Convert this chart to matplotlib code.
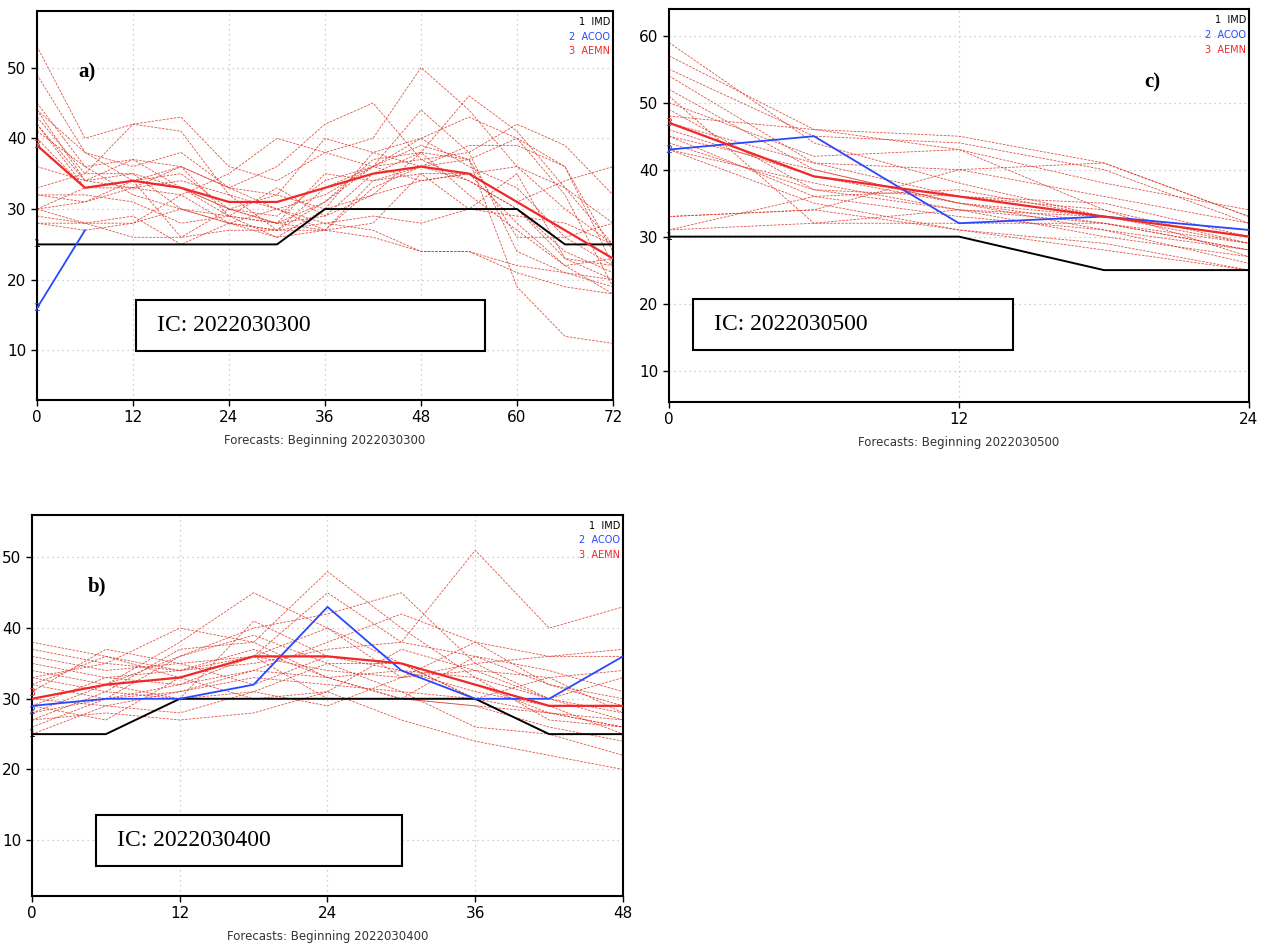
import matplotlib.pyplot as plt
import numpy as np

# panel a: IC 2022030300, lead hours 0..72
hours_a = np.arange(0, 73, 6)
imd_a = [25, 25, 25, 25, 25, 25, 30, 30, 30, 30, 30, 25, 25]
acoo_a = [16, 27]
aemn_a = [39, 33, 34, 33, 31, 31, 33, 35, 36, 35, 31, 27, 23]
members_a = [
    [53, 40, 42, 43, 36, 34, 38, 40, 50, 44, 36, 30, 25],
    [49, 38, 36, 38, 33, 30, 32, 36, 44, 38, 42, 39, 32],
    [45, 36, 37, 33, 30, 28, 29, 35, 38, 46, 41, 33, 28],
    [44, 34, 33, 32, 35, 40, 38, 36, 40, 43, 40, 36, 24],
    [43, 35, 42, 41, 32, 27, 27, 33, 36, 37, 40, 32, 19],
    [42, 33, 34, 36, 33, 36, 42, 45, 37, 34, 30, 24, 21],
    [41, 36, 32, 30, 29, 26, 30, 38, 40, 36, 33, 26, 22],
    [36, 34, 37, 36, 29, 28, 35, 34, 35, 35, 31, 34, 36],
    [33, 35, 35, 33, 30, 29, 34, 36, 39, 37, 19, 12, 11],
    [32, 32, 31, 28, 29, 33, 29, 32, 34, 35, 28, 22, 18],
    [32, 31, 33, 34, 32, 30, 28, 27, 24, 24, 21, 19, 18],
    [30, 28, 26, 26, 30, 32, 40, 38, 36, 34, 30, 23, 20],
    [30, 31, 34, 26, 27, 27, 28, 29, 28, 30, 35, 23, 22],
    [29, 28, 28, 32, 28, 27, 33, 36, 34, 35, 36, 33, 25],
    [28, 28, 29, 25, 28, 30, 27, 26, 24, 24, 22, 21, 19],
    [28, 27, 28, 30, 28, 27, 31, 36, 37, 38, 24, 21, 20],
    [40, 33, 33, 36, 33, 32, 30, 32, 38, 37, 26, 26, 28],
    [30, 33, 34, 35, 30, 28, 27, 28, 35, 30, 29, 28, 25],
    [44, 38, 34, 33, 29, 28, 31, 37, 38, 32, 27, 22, 23],
    [42, 34, 35, 30, 28, 26, 27, 34, 36, 39, 39, 36, 22],
]

# panel b: IC 2022030400, lead hours 0..48
hours_b = np.arange(0, 49, 6)
imd_b = [25, 25, 30, 30, 30, 30, 30, 25, 25]
acoo_b = [29, 30, 30, 32, 43, 34, 30, 30, 36]
aemn_b = [30, 32, 33, 36, 36, 35, 32, 29, 29]
members_b = [
    [30, 32, 38, 45, 40, 35, 30, 28, 26],
    [33, 35, 40, 38, 48, 40, 33, 30, 27],
    [35, 33, 32, 36, 45, 38, 36, 34, 31],
    [28, 30, 36, 40, 42, 45, 35, 30, 28],
    [26, 30, 32, 34, 38, 42, 38, 36, 37],
    [32, 36, 34, 35, 37, 38, 51, 40, 43],
    [38, 36, 33, 36, 34, 33, 34, 33, 34],
    [37, 35, 34, 37, 33, 30, 36, 32, 30],
    [25, 29, 31, 33, 32, 31, 26, 25, 22],
    [27, 28, 27, 28, 31, 27, 24, 22, 20],
    [29, 33, 34, 36, 30, 30, 29, 26, 24],
    [31, 37, 35, 32, 36, 35, 30, 25, 25],
    [36, 34, 35, 36, 40, 33, 38, 32, 29],
    [30, 29, 28, 31, 29, 33, 35, 36, 36],
    [27, 31, 30, 31, 35, 35, 32, 28, 26],
    [33, 31, 37, 38, 33, 30, 29, 28, 27],
    [28, 32, 30, 41, 36, 34, 31, 29, 25],
    [32, 30, 31, 34, 33, 34, 33, 27, 26],
    [34, 32, 36, 39, 35, 31, 30, 33, 28],
    [29, 27, 33, 30, 31, 37, 34, 30, 33],
]

# panel c: IC 2022030500, lead hours 0..24
hours_c = np.arange(0, 25, 6)
imd_c = [30, 30, 30, 25, 25]
acoo_c = [43, 45, 32, 33, 31]
aemn_c = [47, 39, 36, 33, 30]
members_c = [
    [59, 44, 38, 33, 30],
    [57, 46, 45, 41, 33],
    [55, 45, 44, 40, 32],
    [54, 41, 36, 34, 29],
    [52, 40, 35, 32, 28],
    [51, 32, 34, 33, 31],
    [50, 42, 43, 38, 34],
    [49, 37, 36, 35, 30],
    [48, 46, 43, 34, 27],
    [47, 41, 40, 41, 33],
    [46, 39, 35, 33, 29],
    [45, 36, 33, 31, 28],
    [44, 37, 34, 30, 27],
    [43, 35, 31, 29, 25],
    [33, 34, 40, 36, 32],
    [31, 36, 37, 33, 30],
    [31, 32, 32, 32, 29],
    [43, 38, 34, 32, 28],
    [45, 40, 35, 31, 26],
    [33, 34, 31, 28, 25],
]

BLACK = '#000000'
BLUE = '#2848ff'
RED = '#f02828'
MEMBER = '#dc3424'
W, H = 1271, 946


def box(l, t, r, b):
    return [l / W, 1 - b / H, (r - l) / W, (b - t) / H]


def draw_panel(fig, rect, hours, imd, acoo, aemn, members, ylim, yticks,
               xticks, ic, letter, letter_pos, ic_box):
    ax = fig.add_axes(box(*rect))
    for m in members:
        ax.plot(hours, m, color=MEMBER, lw=0.6, ls=(0, (3, 1.5)), alpha=0.85)
    ax.plot(hours, imd, color=BLACK, lw=1.4, zorder=5)
    ax.plot(hours[:len(acoo)], acoo, color=BLUE, lw=1.3, zorder=6)
    ax.plot(hours, aemn, color=RED, lw=1.6, zorder=7)
    # line start markers, nudged apart when they sit on top of each other
    starts = [('1', imd[0], BLACK), ('2', acoo[0], BLUE), ('3', aemn[0], RED)]
    for lab, val, col in starts:
        dy = 0
        for lab2, val2, _ in starts:
            if lab2 != lab and abs(val2 - val) < 2.5:
                dy = -4 if val <= val2 else 4
        ax.annotate(lab, (0, val), xytext=(0, dy), textcoords='offset points',
                    color=col, fontsize=8, ha='center', va='center',
                    zorder=8, annotation_clip=False)
    ax.set_xlim(hours[0], hours[-1])
    ax.set_ylim(*ylim)
    ax.set_xticks(xticks)
    ax.set_yticks(yticks)
    ax.grid(True, color='#c0c0c0', ls=(0, (1, 3)), lw=0.9)
    ax.tick_params(direction='out', length=4, width=1, labelsize=11)
    for s in ax.spines.values():
        s.set_linewidth(1.5)
    ax.set_xlabel('Forecasts: Beginning ' + ic, fontsize=8.5, color='#333333',
                  labelpad=6)
    # legend in upper right
    for i, (lab, col) in enumerate([('1  IMD', BLACK), ('2  ACOO', BLUE),
                                    ('3  AEMN', RED)]):
        ax.text(0.995, 0.985 - i * 0.038, lab, transform=ax.transAxes,
                color=col, fontsize=7, ha='right', va='top')
    ax.text(letter_pos[0], letter_pos[1], letter, transform=ax.transAxes,
            fontsize=15, fontweight='bold', family='Liberation Serif')
    # IC box
    bl, bt, br, bb = ic_box
    fig.patches.append(plt.Rectangle((bl / W, 1 - bb / H), (br - bl) / W,
                                     (bb - bt) / H, transform=fig.transFigure,
                                     fill=True, facecolor='white',
                                     edgecolor='black', lw=1.5, zorder=10))
    fig.text((bl + 21) / W, 1 - (bt + bb) / 2 / H, 'IC: ' + ic,
             fontsize=17, family='Liberation Serif', va='center', zorder=11)
    return ax


def main():
    fig = plt.figure(figsize=(W / 100, H / 100), dpi=100)
    draw_panel(fig, (37, 11, 613, 400), hours_a, imd_a, acoo_a, aemn_a,
               members_a, (3, 58), [10, 20, 30, 40, 50],
               [0, 12, 24, 36, 48, 60, 72], '2022030300', 'a)',
               (0.072, 0.83), (136, 300, 485, 351))
    draw_panel(fig, (669, 9, 1249, 402), hours_c, imd_c, acoo_c, aemn_c,
               members_c, (5.3, 64), [10, 20, 30, 40, 50, 60],
               [0, 12, 24], '2022030500', 'c)',
               (0.82, 0.8), (693, 299, 1013, 350))
    draw_panel(fig, (32, 515, 623, 896), hours_b, imd_b, acoo_b, aemn_b,
               members_b, (2.1, 56), [10, 20, 30, 40, 50],
               [0, 12, 24, 36, 48], '2022030400', 'b)',
               (0.095, 0.8), (96, 815, 402, 866))
    fig.savefig('out.png', dpi=100)


if __name__ == '__main__':
    main()
